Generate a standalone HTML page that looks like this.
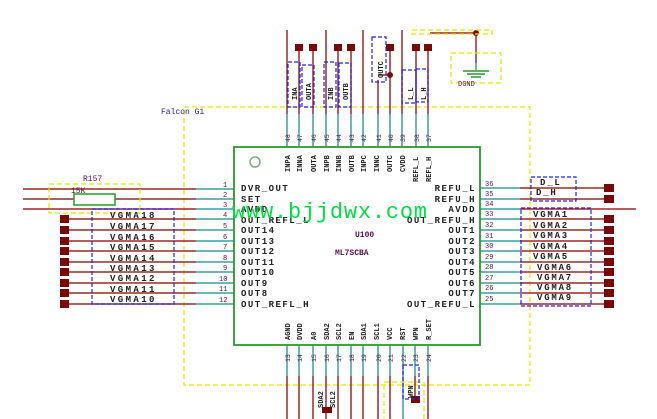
<!DOCTYPE html>
<html><head><meta charset="utf-8"><style>
html,body{margin:0;padding:0;background:#fff;width:657px;height:419px;overflow:hidden}
svg{display:block}
text{font-family:"Liberation Mono","DejaVu Sans Mono",monospace}
</style></head><body>
<svg width="657" height="419" viewBox="0 0 657 419" xmlns="http://www.w3.org/2000/svg">
<rect x="184" y="107" width="346" height="278" fill="none" stroke="#f0e000" stroke-width="1.2" stroke-dasharray="5,3"/>
<text x="161" y="114" font-size="8" fill="#2020a0" font-family="Liberation Sans">Falcon G1</text>

<g stroke-width="1.5">
<g stroke="#9a2a2a">
<line x1="23" y1="189" x2="196" y2="189"/><line x1="23" y1="199" x2="74" y2="199"/><line x1="115" y1="199" x2="196" y2="199"/>
<line x1="23" y1="209" x2="196" y2="209"/>
<line x1="65" y1="219" x2="196" y2="219"/><line x1="65" y1="230" x2="196" y2="230"/><line x1="65" y1="241" x2="196" y2="241"/>
<line x1="65" y1="251" x2="196" y2="251"/><line x1="65" y1="262" x2="196" y2="262"/><line x1="65" y1="272" x2="196" y2="272"/>
<line x1="65" y1="283" x2="196" y2="283"/><line x1="65" y1="293" x2="196" y2="293"/><line x1="65" y1="304" x2="196" y2="304"/>
</g>
<g stroke="#3aa0a0">
<line x1="196" y1="189" x2="234" y2="189"/><line x1="196" y1="199" x2="234" y2="199"/><line x1="196" y1="209" x2="234" y2="209"/>
<line x1="196" y1="219" x2="234" y2="219"/><line x1="196" y1="230" x2="234" y2="230"/><line x1="196" y1="241" x2="234" y2="241"/>
<line x1="196" y1="251" x2="234" y2="251"/><line x1="196" y1="262" x2="234" y2="262"/><line x1="196" y1="272" x2="234" y2="272"/>
<line x1="196" y1="283" x2="234" y2="283"/><line x1="196" y1="293" x2="234" y2="293"/><line x1="196" y1="304" x2="234" y2="304"/>
</g>
</g>
<g fill="#7a0a0a">
<rect x="60" y="215" width="9" height="8"/><rect x="60" y="226" width="9" height="8"/><rect x="60" y="237" width="9" height="8"/>
<rect x="60" y="247" width="9" height="8"/><rect x="60" y="258" width="9" height="8"/><rect x="60" y="268" width="9" height="8"/>
<rect x="60" y="279" width="9" height="8"/><rect x="60" y="289" width="9" height="8"/><rect x="60" y="300" width="9" height="8"/>
</g>
<rect x="49" y="184" width="91" height="29" fill="none" stroke="#f0e000" stroke-width="1.2" stroke-dasharray="5,3"/>
<rect x="74" y="194" width="41" height="11" fill="#fff" stroke="#2a9a2a" stroke-width="1.5"/>
<text x="83" y="181" font-size="8" fill="#5a1050">R157</text>
<text x="71" y="193" font-size="8" fill="#5a1050">15K</text>
<rect x="92" y="209" width="82" height="95" fill="none" stroke="#2020ff" stroke-width="1.2" stroke-dasharray="4,2"/>
<g font-size="9" fill="#222" font-weight="bold" letter-spacing="2.4">
<text x="110" y="218">VGMA18</text><text x="110" y="229">VGMA17</text><text x="110" y="240">VGMA16</text>
<text x="110" y="250">VGMA15</text><text x="110" y="261">VGMA14</text><text x="110" y="271">VGMA13</text>
<text x="110" y="281">VGMA12</text><text x="110" y="292">VGMA11</text><text x="110" y="302">VGMA10</text>
</g>
<g font-size="7" fill="#5a1050">
<text x="223" y="187">1</text><text x="223" y="197">2</text><text x="223" y="207">3</text><text x="223" y="217">4</text>
<text x="223" y="228">5</text><text x="223" y="239">6</text><text x="223" y="249">7</text><text x="223" y="260">8</text>
<text x="223" y="270">9</text><text x="219" y="281">10</text><text x="219" y="291">11</text><text x="219" y="302">12</text>
</g>

<g stroke-width="1.5">
<g stroke="#3aa0a0">
<line x1="480" y1="188" x2="520" y2="188"/><line x1="480" y1="199" x2="520" y2="199"/><line x1="480" y1="209" x2="520" y2="209"/>
<line x1="480" y1="219" x2="520" y2="219"/><line x1="480" y1="230" x2="520" y2="230"/><line x1="480" y1="241" x2="520" y2="241"/>
<line x1="480" y1="251" x2="520" y2="251"/><line x1="480" y1="262" x2="520" y2="262"/><line x1="480" y1="272" x2="520" y2="272"/>
<line x1="480" y1="283" x2="520" y2="283"/><line x1="480" y1="293" x2="520" y2="293"/><line x1="480" y1="304" x2="520" y2="304"/>
</g>
<g stroke="#9a2a2a">
<line x1="520" y1="188" x2="610" y2="188"/><line x1="520" y1="199" x2="610" y2="199"/><line x1="520" y1="209" x2="636" y2="209"/>
<line x1="520" y1="219" x2="610" y2="219"/><line x1="520" y1="230" x2="610" y2="230"/><line x1="520" y1="241" x2="610" y2="241"/>
<line x1="520" y1="251" x2="610" y2="251"/><line x1="520" y1="262" x2="610" y2="262"/><line x1="520" y1="272" x2="610" y2="272"/>
<line x1="520" y1="283" x2="610" y2="283"/><line x1="520" y1="293" x2="610" y2="293"/><line x1="520" y1="304" x2="610" y2="304"/>
</g>
</g>
<g fill="#7a0a0a">
<rect x="604" y="184" width="10" height="8"/><rect x="604" y="195" width="10" height="8"/>
<rect x="604" y="215" width="10" height="8"/><rect x="604" y="226" width="10" height="8"/><rect x="604" y="237" width="10" height="8"/>
<rect x="604" y="247" width="10" height="8"/><rect x="604" y="258" width="10" height="8"/><rect x="604" y="268" width="10" height="8"/>
<rect x="604" y="279" width="10" height="8"/><rect x="604" y="289" width="10" height="8"/><rect x="604" y="300" width="10" height="8"/>
</g>
<g fill="none" stroke="#2020ff" stroke-width="1.2" stroke-dasharray="4,2">
<rect x="531" y="177" width="45" height="24"/>
<rect x="521" y="208" width="70" height="98"/>
</g>
<g font-size="9" fill="#222" font-weight="bold" letter-spacing="1.8">
<text x="540" y="185">D_L</text><text x="536" y="195">D_H</text>
<text x="533" y="217">VGMA1</text><text x="533" y="228">VGMA2</text><text x="533" y="238">VGMA3</text>
<text x="533" y="249">VGMA4</text><text x="533" y="259">VGMA5</text><text x="537" y="270">VGMA6</text>
<text x="537" y="280">VGMA7</text><text x="537" y="290">VGMA8</text><text x="537" y="300">VGMA9</text>
</g>
<g font-size="7" fill="#5a1050">
<text x="485" y="186">36</text><text x="485" y="196">35</text><text x="485" y="206">34</text><text x="485" y="216">33</text>
<text x="485" y="227">32</text><text x="485" y="238">31</text><text x="485" y="248">30</text><text x="485" y="259">29</text>
<text x="485" y="269">28</text><text x="485" y="280">27</text><text x="485" y="290">26</text><text x="485" y="301">25</text>
</g>

<g stroke-width="1.5">
<g stroke="#9a2a2a">
<line x1="287" y1="30" x2="287" y2="114"/><line x1="299" y1="48" x2="299" y2="114"/><line x1="313" y1="48" x2="313" y2="114"/>
<line x1="326" y1="30" x2="326" y2="114"/><line x1="338" y1="48" x2="338" y2="114"/><line x1="351" y1="48" x2="351" y2="114"/>
<line x1="363" y1="30" x2="363" y2="114"/><line x1="378" y1="80" x2="378" y2="114"/><line x1="390" y1="48" x2="390" y2="114"/>
<line x1="402" y1="30" x2="402" y2="114"/><line x1="416" y1="48" x2="416" y2="114"/><line x1="428" y1="48" x2="428" y2="114"/>
<line x1="378" y1="75" x2="390" y2="75"/>
<line x1="430" y1="33" x2="476" y2="33"/><line x1="476" y1="33" x2="476" y2="63"/>
</g>
<g stroke="#3aa0a0">
<line x1="287" y1="114" x2="287" y2="147"/><line x1="299" y1="114" x2="299" y2="147"/><line x1="313" y1="114" x2="313" y2="147"/>
<line x1="326" y1="114" x2="326" y2="147"/><line x1="338" y1="114" x2="338" y2="147"/><line x1="351" y1="114" x2="351" y2="147"/>
<line x1="363" y1="114" x2="363" y2="147"/><line x1="378" y1="114" x2="378" y2="147"/><line x1="390" y1="114" x2="390" y2="147"/>
<line x1="402" y1="114" x2="402" y2="147"/><line x1="416" y1="114" x2="416" y2="147"/><line x1="428" y1="114" x2="428" y2="147"/>
</g>
</g>
<g fill="#7a0a0a">
<rect x="295" y="44" width="8" height="7"/><rect x="309" y="44" width="8" height="7"/>
<rect x="334" y="44" width="8" height="7"/><rect x="347" y="44" width="8" height="7"/>
<rect x="386" y="44" width="8" height="7"/><rect x="412" y="44" width="8" height="7"/><rect x="424" y="44" width="8" height="7"/>
<circle cx="390" cy="75" r="3"/><circle cx="476" cy="33" r="3"/>
</g>
<rect x="412" y="30" width="80" height="4" fill="none" stroke="#f0e000" stroke-width="1.2" stroke-dasharray="5,3"/>
<g fill="none" stroke="#2020ff" stroke-width="1.2" stroke-dasharray="4,2">
<rect x="288" y="62" width="12" height="45"/><rect x="302" y="65" width="12" height="42"/>
<rect x="324" y="62" width="12" height="45"/><rect x="339" y="63" width="12" height="44"/>
<rect x="372" y="37" width="14" height="45"/>
<rect x="402" y="70" width="14" height="33"/><rect x="416" y="69" width="12" height="33"/>
</g>
<g font-size="7" fill="#222" font-weight="bold">
<text transform="translate(297,100) rotate(-90)">INA</text><text transform="translate(311,100) rotate(-90)">OUTA</text>
<text transform="translate(333,100) rotate(-90)">INB</text><text transform="translate(348,100) rotate(-90)">OUTB</text>
<text transform="translate(383,78) rotate(-90)">OUTC</text>
<text transform="translate(413,100) rotate(-90)">L_L</text><text transform="translate(426,100) rotate(-90)">L_H</text>
</g>
<rect x="451" y="53" width="50" height="30" fill="none" stroke="#f0e000" stroke-width="1.2" stroke-dasharray="5,3"/>
<line x1="476" y1="63" x2="476" y2="70" stroke="#3aa0a0" stroke-width="1.5"/>
<g stroke="#2a9a2a" stroke-width="1.5"><line x1="463" y1="71" x2="489" y2="71"/><line x1="467" y1="74" x2="485" y2="74"/><line x1="471" y1="77" x2="481" y2="77"/></g>
<text x="458" y="86" font-size="7" fill="#5a1050">DGND</text>
<g font-size="6.5" fill="#5a1050">
<text transform="translate(290,142) rotate(-90)">48</text><text transform="translate(302,142) rotate(-90)">47</text>
<text transform="translate(316,142) rotate(-90)">46</text><text transform="translate(329,142) rotate(-90)">45</text>
<text transform="translate(341,142) rotate(-90)">44</text><text transform="translate(354,142) rotate(-90)">43</text>
<text transform="translate(366,142) rotate(-90)">42</text><text transform="translate(381,142) rotate(-90)">41</text>
<text transform="translate(393,142) rotate(-90)">40</text><text transform="translate(405,142) rotate(-90)">39</text>
<text transform="translate(419,142) rotate(-90)">38</text><text transform="translate(431,142) rotate(-90)">37</text>
</g>

<g stroke-width="1.5">
<g stroke="#3aa0a0">
<line x1="287" y1="345" x2="287" y2="376"/><line x1="299" y1="345" x2="299" y2="376"/><line x1="313" y1="345" x2="313" y2="376"/>
<line x1="326" y1="345" x2="326" y2="376"/><line x1="338" y1="345" x2="338" y2="376"/><line x1="351" y1="345" x2="351" y2="376"/>
<line x1="363" y1="345" x2="363" y2="376"/><line x1="378" y1="345" x2="378" y2="376"/><line x1="390" y1="345" x2="390" y2="376"/>
<line x1="403" y1="345" x2="403" y2="419"/><line x1="415" y1="345" x2="415" y2="376"/><line x1="428" y1="345" x2="428" y2="376"/>
</g>
<g stroke="#9a2a2a">
<line x1="287" y1="376" x2="287" y2="419"/><line x1="299" y1="376" x2="299" y2="419"/><line x1="313" y1="376" x2="313" y2="419"/>
<line x1="326" y1="376" x2="326" y2="419"/><line x1="338" y1="376" x2="338" y2="419"/><line x1="351" y1="376" x2="351" y2="419"/>
<line x1="363" y1="376" x2="363" y2="419"/><line x1="378" y1="376" x2="378" y2="419"/><line x1="390" y1="376" x2="390" y2="419"/>
<line x1="415" y1="376" x2="415" y2="396"/><line x1="428" y1="376" x2="428" y2="419"/>
</g>
</g>
<rect x="411" y="396" width="9" height="7" fill="#7a0a0a"/>
<rect x="322" y="407" width="10" height="6" fill="#7a0a0a"/>
<rect x="384" y="382" width="40" height="40" fill="none" stroke="#f0e000" stroke-width="1.2" stroke-dasharray="5,3"/>
<rect x="403" y="365" width="16" height="34" fill="none" stroke="#2020ff" stroke-width="1.2" stroke-dasharray="4,2"/>
<g font-size="7" fill="#222" font-weight="bold">
<text transform="translate(323,408) rotate(-90)">SDA2</text><text transform="translate(335,408) rotate(-90)">SCL2</text>
<text transform="translate(413,398) rotate(-90)">WPN</text>
</g>
<g font-size="6.5" fill="#5a1050">
<text transform="translate(290,362) rotate(-90)">13</text><text transform="translate(302,362) rotate(-90)">14</text>
<text transform="translate(316,362) rotate(-90)">15</text><text transform="translate(329,362) rotate(-90)">16</text>
<text transform="translate(341,362) rotate(-90)">17</text><text transform="translate(354,362) rotate(-90)">18</text>
<text transform="translate(366,362) rotate(-90)">19</text><text transform="translate(381,362) rotate(-90)">20</text>
<text transform="translate(393,362) rotate(-90)">21</text><text transform="translate(406,362) rotate(-90)">22</text>
<text transform="translate(418,362) rotate(-90)">23</text><text transform="translate(431,362) rotate(-90)">24</text>
</g>

<rect x="234" y="147" width="246" height="198" fill="#fff" stroke="#2a9a2a" stroke-width="1.8"/>
<circle cx="255" cy="162" r="5" fill="none" stroke="#7ab07a" stroke-width="1.5"/>
<g font-size="9" fill="#222" font-weight="bold" letter-spacing="1.5">
<text x="241" y="191">DVR_OUT</text><text x="241" y="202">SET</text><text x="241" y="212">AVDD</text>
<text x="241" y="223">OUT_REFL_L</text><text x="241" y="233">OUT14</text><text x="241" y="244">OUT13</text>
<text x="241" y="254">OUT12</text><text x="241" y="265">OUT11</text><text x="241" y="275">OUT10</text>
<text x="241" y="286">OUT9</text><text x="241" y="296">OUT8</text><text x="241" y="307">OUT_REFL_H</text>
</g>
<g font-size="9" fill="#222" font-weight="bold" letter-spacing="1.5" text-anchor="end">
<text x="476" y="191">REFU_L</text><text x="476" y="202">REFU_H</text>
<text x="476" y="212">AVDD</text><text x="476" y="223">OUT_REFU_H</text>
<text x="476" y="233">OUT1</text><text x="476" y="244">OUT2</text>
<text x="476" y="254">OUT3</text><text x="476" y="265">OUT4</text>
<text x="476" y="275">OUT5</text><text x="476" y="286">OUT6</text>
<text x="476" y="296">OUT7</text><text x="476" y="307">OUT_REFU_L</text>
</g>
<g font-size="7" fill="#222" font-weight="bold">
<text transform="translate(290,172) rotate(-90)">INPA</text><text transform="translate(302,172) rotate(-90)">INNA</text>
<text transform="translate(316,172) rotate(-90)">OUTA</text><text transform="translate(329,172) rotate(-90)">INPB</text>
<text transform="translate(341,172) rotate(-90)">INNB</text><text transform="translate(354,172) rotate(-90)">OUTB</text>
<text transform="translate(366,172) rotate(-90)">INPC</text><text transform="translate(379,172) rotate(-90)">INNC</text>
<text transform="translate(392,172) rotate(-90)">OUTC</text><text transform="translate(405,172) rotate(-90)">CVDD</text>
<text transform="translate(418,182) rotate(-90)">REFL_L</text><text transform="translate(431,182) rotate(-90)">REFL_H</text>
<text transform="translate(290,340) rotate(-90)">AGND</text><text transform="translate(302,340) rotate(-90)">DVDD</text>
<text transform="translate(316,340) rotate(-90)">A0</text><text transform="translate(329,340) rotate(-90)">SDA2</text>
<text transform="translate(341,340) rotate(-90)">SCL2</text><text transform="translate(354,340) rotate(-90)">EN</text>
<text transform="translate(366,340) rotate(-90)">SDA1</text><text transform="translate(379,340) rotate(-90)">SCL1</text>
<text transform="translate(392,340) rotate(-90)">VCC</text><text transform="translate(405,340) rotate(-90)">RST</text>
<text transform="translate(418,340) rotate(-90)">WPN</text><text transform="translate(431,340) rotate(-90)">R_SET</text>
</g>
<text x="355" y="237" font-size="8" fill="#5a1050" font-weight="bold">U100</text>
<text x="335" y="255" font-size="8" fill="#5a1050" font-weight="bold">ML7SCBA</text>
<text x="232" y="218" font-size="22" fill="#00e040" textLength="195" lengthAdjust="spacing">www.bjjdwx.com</text>
</svg>
</body></html>
